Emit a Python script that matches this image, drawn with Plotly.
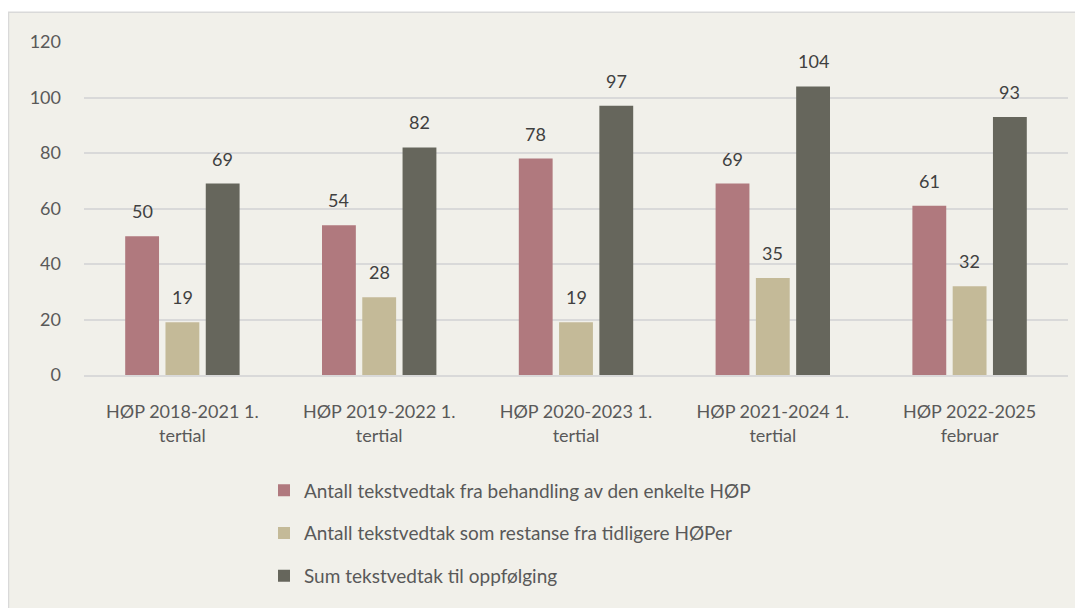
import plotly.graph_objects as go

categories = ["HØP 2018-2021 1.<br>tertial", "HØP 2019-2022 1.<br>tertial",
              "HØP 2020-2023 1.<br>tertial", "HØP 2021-2024 1.<br>tertial",
              "HØP 2022-2025<br>februar"]
series_names = ["Antall tekstvedtak fra behandling av den enkelte HØP",
                "Antall tekstvedtak som restanse fra tidligere HØPer",
                "Sum tekstvedtak til oppfølging"]
vals_behandling = [50, 54, 78, 69, 61]
vals_restanse = [19, 28, 19, 35, 32]
vals_sum = [69, 82, 97, 104, 93]
colors = ["#B0797E", "#C4BA98", "#66665C"]

FONT = "Lato"
BARGAP, BARGROUPGAP = 0.386, 0.16

# page has 8px body margin; work in figure coords = page - 8
OFF = 8
W, H = 1083 - OFF, 608 - OFF
l, r, t, b = 84 - OFF, 15, 42 - OFF, 231
pw, ph = W - l - r, H - t - b
def px_x(px): return (px - OFF - l) / pw
def px_y(py): return (H - b - (py - OFF)) / ph

all_series = [vals_behandling, vals_restanse, vals_sum]
fig = go.Figure()
slot = pw / len(categories) * (1 - BARGAP) / len(all_series)
for i, (name, vals) in enumerate(zip(series_names, all_series)):
    fig.add_trace(go.Bar(
        x=categories, y=vals, name=name, marker_color=colors[i],
        marker_line_width=0, legendgroup=str(i)))
    for c, v in zip(categories, vals):
        fig.add_annotation(x=c, y=v, text=str(v), showarrow=False,
                           xanchor="center", yanchor="bottom",
                           xshift=(i - 1) * slot, yshift=12,
                           font=dict(size=18, color="#404040", family=FONT))

fig.add_shape(type="rect", xref="paper", yref="paper",
              x0=px_x(8.5), x1=px_x(1080), y0=px_y(620), y1=px_y(12),
              fillcolor="#F1F0EA", line=dict(color="#D9D9D9", width=1.5), layer="below")

fig.update_layout(
    width=W, height=H, margin=dict(l=l, r=r, t=t, b=b),
    paper_bgcolor="white", plot_bgcolor="rgba(0,0,0,0)",
    font=dict(family=FONT, size=18, color="#595959"),
    barmode="group", bargap=BARGAP, bargroupgap=BARGROUPGAP,
    showlegend=True,
    legend=dict(x=px_x(264), y=px_y(474), xanchor="left", yanchor="top",
                orientation="v", bgcolor="rgba(0,0,0,0)", tracegroupgap=15,
                font=dict(size=19, color="#595959", family=FONT)),
    xaxis=dict(showgrid=False, showline=True, linecolor="#D9D9D9", linewidth=1.5,
               tickfont=dict(size=18, color="#595959"), ticks="",
               ticklabelstandoff=20),
    yaxis=dict(range=[0, 120], dtick=20, showgrid=True, gridcolor="#D9D9D9", gridwidth=1.5,
               zeroline=False, showline=False, tickfont=dict(size=18, color="#595959"),
               ticklabelstandoff=22),
)
fig.write_html("out.html")
